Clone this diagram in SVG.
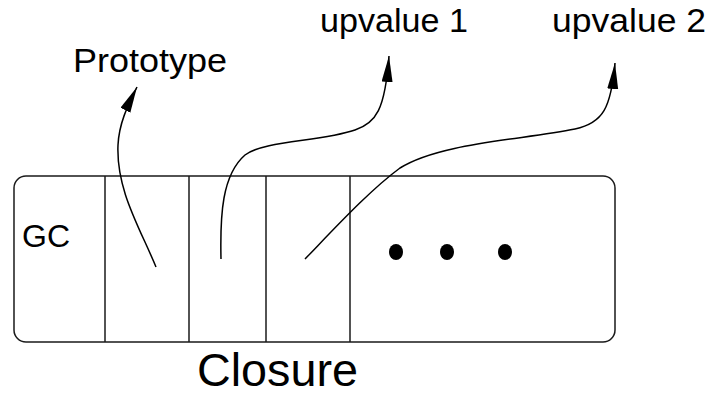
<svg xmlns="http://www.w3.org/2000/svg" width="715" height="395" viewBox="0 0 715 395">
  <style>
    .frame { fill: none; stroke: #1a1a1a; stroke-width: 1.5; }
    .wire { fill: none; stroke: #000; stroke-width: 1.5; marker-end: url(#head); }
    .label { font-family: "Liberation Sans", Arial, Helvetica, sans-serif; fill: #000; }
    .dot { fill: #000; }
  </style>
  <defs>
    <marker id="head" markerUnits="userSpaceOnUse" markerWidth="28" markerHeight="12" refX="26" refY="5.5" orient="auto">
      <path d="M0,0 L26,5.5 L0,11 z" fill="#000"/>
    </marker>
  </defs>
  <rect width="715" height="395" fill="#fff"/>

  <!-- closure record with its slots -->
  <g id="closure">
    <rect class="frame" x="14" y="176" width="601" height="166" rx="12" ry="12"/>
    <line class="frame" x1="105" y1="176" x2="105" y2="342"/>
    <line class="frame" x1="189" y1="176" x2="189" y2="342"/>
    <line class="frame" x1="266" y1="176" x2="266" y2="342"/>
    <line class="frame" x1="350" y1="176" x2="350" y2="342"/>
    <text class="label" x="22" y="247" font-size="31" textLength="48" lengthAdjust="spacingAndGlyphs">GC</text>
    <ellipse class="dot" cx="396" cy="252" rx="7" ry="8"/>
    <ellipse class="dot" cx="447" cy="252" rx="7" ry="8"/>
    <ellipse class="dot" cx="505" cy="252" rx="7" ry="8"/>
    <text class="label" x="197" y="386" font-size="46" textLength="161" lengthAdjust="spacingAndGlyphs">Closure</text>
  </g>

  <g id="prototype">
    <text class="label" x="73" y="72" font-size="34" textLength="154" lengthAdjust="spacingAndGlyphs">Prototype</text>
  </g>
  <g id="upvalue1">
    <text class="label" x="320" y="32" font-size="34" textLength="148" lengthAdjust="spacingAndGlyphs">upvalue 1</text>
  </g>
  <g id="upvalue2">
    <text class="label" x="552" y="32" font-size="34" textLength="154" lengthAdjust="spacingAndGlyphs">upvalue 2</text>
  </g>

  <!-- pointers out of the slots -->
  <g id="connectors">
    <path class="wire" d="M156,267 C140,228 116,190 118,145 C119,124 127,107 137,87"/>
    <path class="wire" d="M221,259 C220,215 222,175 245,155 C265,140 320,142 355,130 C376,123 385,110 389,56"/>
    <path class="wire" d="M305,259 C335,228 370,190 400,168 C440,143 520,140 575,129 C603,123 611,108 615,63"/>
  </g>
</svg>
